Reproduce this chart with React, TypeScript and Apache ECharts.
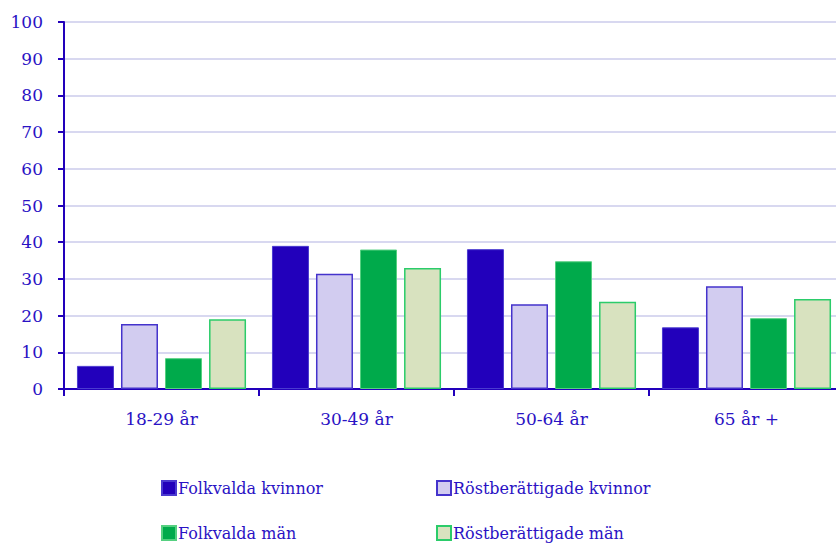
import React, { useEffect, useRef } from "react";
import * as echarts from "echarts";

const categories = ["18-29 år", "30-49 år", "50-64 år", "65 år +"];
const seriesNames = [
  "Folkvalda kvinnor",
  "Röstberättigade kvinnor",
  "Folkvalda män",
  "Röstberättigade män",
];
const folkvaldaKvinnor = [6.3, 39.0, 38.1, 16.8];
const rostKvinnor = [17.7, 31.4, 23.1, 28.0];
const folkvaldaMan = [8.4, 38.0, 34.8, 19.3];
const rostMan = [19.0, 33.0, 23.8, 24.5];
const yTicks = { min: 0, max: 100, interval: 10 };

const TEXT = "#2a12c4";
const AXIS = "#2200bb";
const FONT = "DejaVu Serif";

export default function App() {
  const ref = useRef<HTMLDivElement>(null);
  useEffect(() => {
    if (!ref.current) return;
    const chart = echarts.init(ref.current, undefined, { renderer: "svg" });
    const styles = [
      { color: "#2200bb", borderColor: "#4a3ad0", borderWidth: 1 },
      { color: "#d2ccf0", borderColor: "#4433cc", borderWidth: 1.5 },
      { color: "#00aa4b", borderColor: "#55d080", borderWidth: 1 },
      { color: "#d8e2bf", borderColor: "#2bcc6a", borderWidth: 1.5 },
    ];
    const datas = [folkvaldaKvinnor, rostKvinnor, folkvaldaMan, rostMan];
    const legendPos = [
      { left: 161, top: 480 },
      { left: 436, top: 480 },
      { left: 161, top: 525 },
      { left: 436, top: 525 },
    ];
    chart.setOption({
      animation: false,
      grid: { left: 64, top: 22, bottom: 156, right: 0, containLabel: false },
      legend: seriesNames.map((n, i) => ({
        data: [n],
        left: legendPos[i].left,
        top: legendPos[i].top,
        itemWidth: 14,
        itemHeight: 14,
        icon: "rect",
        padding: 0,
        textStyle: { color: TEXT, fontFamily: FONT, fontSize: 16, padding: [0, 0, 0, -3] },
      })),
      xAxis: {
        type: "category",
        data: categories,
        axisLine: { lineStyle: { color: AXIS, width: 2 } },
        axisTick: { show: true, length: 7, lineStyle: { color: AXIS, width: 2 } },
        axisLabel: { color: TEXT, fontFamily: FONT, fontSize: 17, margin: 21 },
        splitLine: { show: false },
      },
      yAxis: {
        type: "value",
        min: yTicks.min,
        max: yTicks.max,
        interval: yTicks.interval,
        axisLine: { show: true, lineStyle: { color: AXIS, width: 2 } },
        axisTick: { show: true, length: 6, lineStyle: { color: AXIS, width: 2 } },
        axisLabel: { color: TEXT, fontFamily: FONT, fontSize: 17, margin: 21 },
        splitLine: { lineStyle: { color: "#d8d8f0", width: 2 } },
      },
      series: seriesNames.map((n, i) => ({
        name: n,
        type: "bar",
        data: datas[i],
        barWidth: 37,
        barGap: "19%",
        itemStyle: styles[i],
      })),
    });
    return () => chart.dispose();
  }, []);
  return (
    <div style={{ width: 836, height: 545, position: "absolute", left: 0, top: 0, overflow: "hidden" }}>
      <div ref={ref} style={{ width: 844, height: 545 }} />
    </div>
  );
}
